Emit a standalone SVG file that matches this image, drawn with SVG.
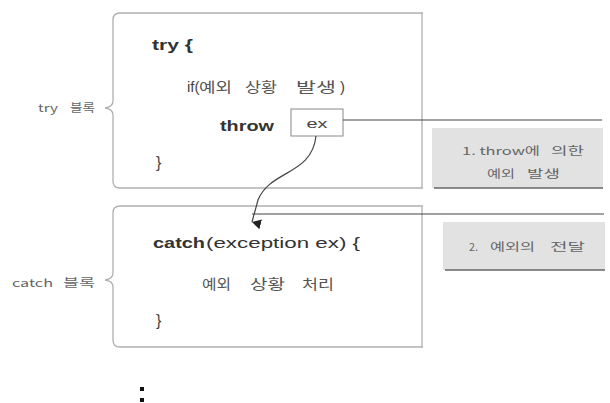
<svg xmlns="http://www.w3.org/2000/svg" width="610" height="403" viewBox="0 0 610 403">
<defs>
<style>
.t{font-family:"Liberation Sans","Noto Sans CJK KR",sans-serif;fill:#444}
.code{font-size:14px;fill:#333}
.ko{font-family:"Noto Sans CJK KR","Liberation Sans",sans-serif;fill:#555}
.sm{font-size:11px;fill:#666}
.md{font-size:14px;fill:#555}
.frame{fill:none;stroke:#b0b0b0;stroke-width:1.3}
.conn{fill:none;stroke:#444;stroke-width:1.2}
.note{fill:#e2e2e2}
.shadow{stroke:#666;stroke-width:1.5}
</style>
<marker id="ah" markerWidth="10" markerHeight="10" refX="5" refY="9" orient="auto" markerUnits="userSpaceOnUse">
<path d="M0,0 L10,0 L5,9 Z" fill="#222"/>
</marker>
</defs>
<rect width="610" height="403" fill="#fff"/>

<g id="try-block">
<path class="frame" d="M423,13 L120,13 Q113,13 113,20 L113,101 Q113,107 105,108 Q113,109 113,115 L113,181 Q113,188 120,188 L423,188 M422,13 L422,188"/>
<text class="ko sm" x="38" y="112" textLength="20" lengthAdjust="spacingAndGlyphs">try</text>
<text class="ko sm" x="70" y="112" textLength="25" lengthAdjust="spacingAndGlyphs">블록</text>
<text class="t code" x="152" y="50" font-weight="bold" textLength="41" lengthAdjust="spacingAndGlyphs">try {</text>
<text class="t" x="187" y="92" font-size="15" fill="#555">if(</text>
<text class="ko md" x="199" y="92" textLength="33" lengthAdjust="spacingAndGlyphs">예외</text>
<text class="ko md" x="245" y="92" textLength="32" lengthAdjust="spacingAndGlyphs">상황</text>
<text class="ko md" x="296" y="92" textLength="40" lengthAdjust="spacingAndGlyphs">발생</text>
<text class="t" x="340" y="92" font-size="15" fill="#555">)</text>
<text class="t code" x="220" y="131" font-weight="bold" textLength="54" lengthAdjust="spacingAndGlyphs">throw</text>
<text class="t" x="156" y="168" font-size="16" fill="#555">}</text>
</g>

<g id="ex-box">
<rect x="291" y="109" width="52" height="27" fill="#fff" stroke="#888" stroke-width="1"/>
<text class="t" x="317" y="128" font-size="13" text-anchor="middle" textLength="21" lengthAdjust="spacingAndGlyphs">ex</text>
</g>

<g id="catch-block">
<path class="frame" d="M423,206 L120,206 Q113,206 113,213 L113,273 Q113,279 105,280 Q113,281 113,287 L113,340 Q113,347 120,347 L423,347 M422,206 L422,347"/>
<text class="ko sm" x="12" y="287" textLength="41" lengthAdjust="spacingAndGlyphs">catch</text>
<text class="ko sm" x="63" y="287" textLength="32" lengthAdjust="spacingAndGlyphs">블록</text>
<text class="t code" x="153" y="248" font-weight="bold" textLength="52" lengthAdjust="spacingAndGlyphs">catch</text>
<text class="t code" x="206" y="248" fill="#666" textLength="154" lengthAdjust="spacingAndGlyphs">(exception ex) {</text>
<text class="ko md" x="202" y="289" font-size="15" textLength="29" lengthAdjust="spacingAndGlyphs">예외</text>
<text class="ko md" x="250" y="289" font-size="15" textLength="35" lengthAdjust="spacingAndGlyphs">상황</text>
<text class="ko md" x="302" y="289" font-size="15" textLength="32" lengthAdjust="spacingAndGlyphs">처리</text>
<text class="t" x="156" y="326" font-size="16" fill="#555">}</text>
</g>

<g id="note1">
<rect class="note" x="432" y="128" width="171" height="60"/>
<line class="shadow" x1="434" y1="188" x2="603" y2="188"/>
<text class="ko sm" x="462" y="155" textLength="78" lengthAdjust="spacingAndGlyphs">1. throw에</text>
<text class="ko sm" x="551" y="155" textLength="33" lengthAdjust="spacingAndGlyphs">의한</text>
<text class="ko sm" x="487" y="178" textLength="28" lengthAdjust="spacingAndGlyphs">예외</text>
<text class="ko sm" x="527" y="178" textLength="33" lengthAdjust="spacingAndGlyphs">발생</text>
</g>

<g id="note2">
<rect class="note" x="443" y="222" width="162" height="48"/>
<line class="shadow" x1="445" y1="270" x2="605" y2="270"/>
<text class="ko sm" x="469" y="251" textLength="9" lengthAdjust="spacingAndGlyphs">2.</text>
<text class="ko sm" x="490" y="251" textLength="45" lengthAdjust="spacingAndGlyphs">예외의</text>
<text class="ko sm" x="550" y="251" textLength="35" lengthAdjust="spacingAndGlyphs">전달</text>
</g>

<g id="connectors">
<line class="conn" x1="343" y1="120" x2="602" y2="120"/>
<path class="conn" d="M316,136 C312,175 270,170 258,200 L252,222" marker-end="url(#ah)"/>
<line class="conn" x1="252" y1="214" x2="604" y2="214"/>
</g>

<g id="dots">
<rect x="140" y="387" width="4" height="4" fill="#111"/>
<rect x="140" y="398" width="4" height="4" fill="#111"/>
</g>
</svg>
